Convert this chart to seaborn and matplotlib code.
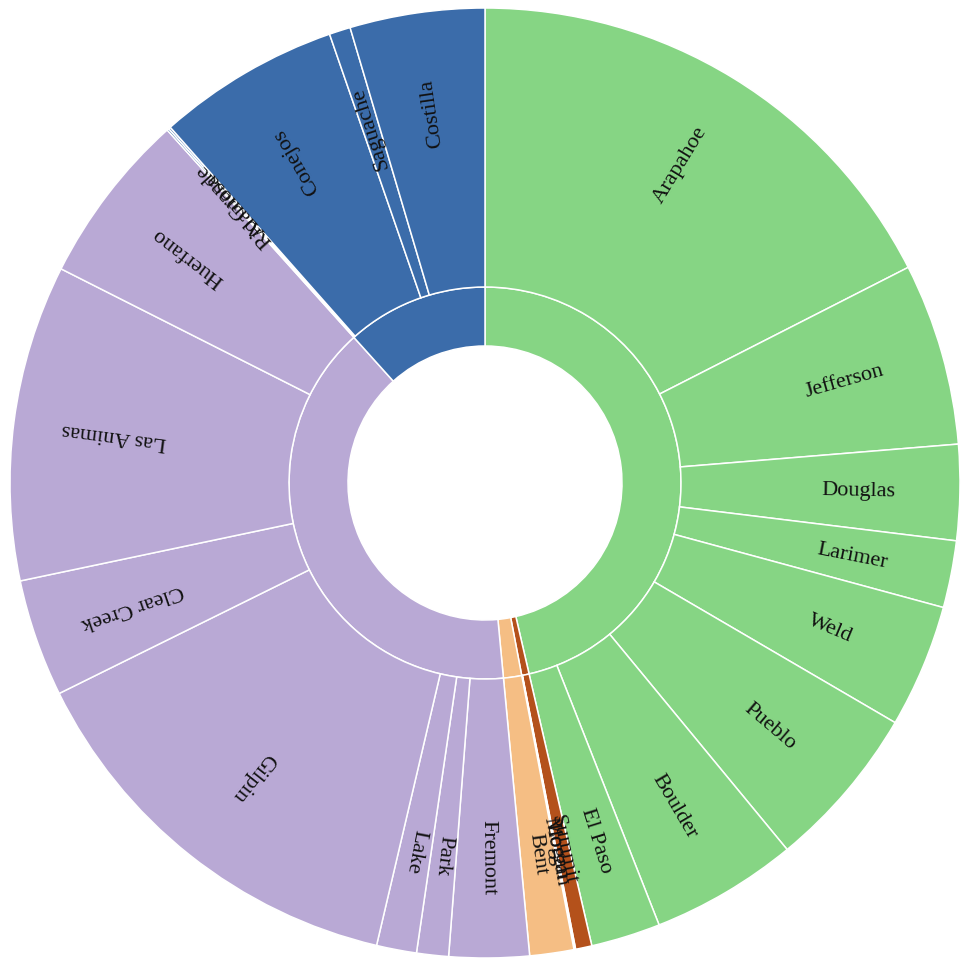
import numpy as np
import matplotlib
matplotlib.use("Agg")
import matplotlib.pyplot as plt
import seaborn as sns

# groups (inner ring) and their counties (outer ring), clockwise from 12 o'clock
groups = ["Front Range", "North East", "South East", "Central", "San Luis Valley"]
group_colors = ["#86d584", "#b4511b", "#f5be84", "#b9a9d5", "#3b6caa"]

counties = [
    ["Arapahoe", "Jefferson", "Douglas", "Larimer", "Weld", "Pueblo", "Boulder", "El Paso"],
    ["Summit", "Logan", "Morgan"],
    ["Bent"],
    ["Fremont", "Park", "Lake", "Gilpin", "Clear Creek", "Las Animas", "Huerfano"],
    ["Rio Grande", "Alamosa", "Conejos", "Saguache", "Costilla"],
]
values = [
    [63.0, 22.3, 11.7, 8.2, 15.1, 20.2, 18.0, 8.5],
    [2.0, 0.1, 0.1],
    [5.4],
    [9.8, 3.9, 4.9, 50.5, 14.4, 38.7, 21.2],
    [0.25, 0.25, 22.4, 2.6, 16.5],
]

sns.set_style("white")
plt.rcParams["font.family"] = ["Liberation Serif", "DejaVu Serif"]

fig = plt.figure(figsize=(9.61, 9.62), dpi=100)
ax = fig.add_axes([0, 0, 1, 1])

R_out, R_mid, R_in = 475, 196, 137

group_totals = [sum(v) for v in values]
leaf_vals = [x for v in values for x in v]
leaf_names = [x for c in counties for x in c]
leaf_cols = [group_colors[i] for i, v in enumerate(values) for _ in v]

wp = dict(edgecolor="white", linewidth=1.1)
ax.pie(group_totals, radius=R_mid, colors=group_colors, startangle=90,
       counterclock=False, wedgeprops=dict(width=R_mid - R_in, **wp))
ax.pie(leaf_vals, radius=R_out, colors=leaf_cols, startangle=90,
       counterclock=False, wedgeprops=dict(width=R_out - R_mid, **wp))

# labels along the radius, no flipping on the left side
total = sum(leaf_vals)
ends = np.cumsum(leaf_vals) / total * 360
starts = ends - np.array(leaf_vals) / total * 360
r_lab = 374
for name, a0, a1 in zip(leaf_names, starts, ends):
    mid = (a0 + a1) / 2
    phi = np.deg2rad(90 - mid)
    ax.text(r_lab * np.cos(phi), r_lab * np.sin(phi), name,
            rotation=90 - mid, rotation_mode="anchor",
            ha="center", va="center", fontsize=16, color="#111111")

# pie() resets the limits, so set them afterwards
ax.set_xlim(-485, 961 - 485)
ax.set_ylim(-(962 - 484), 484)
ax.set_aspect("equal")
ax.axis("off")

fig.savefig("out.png", dpi=100)
